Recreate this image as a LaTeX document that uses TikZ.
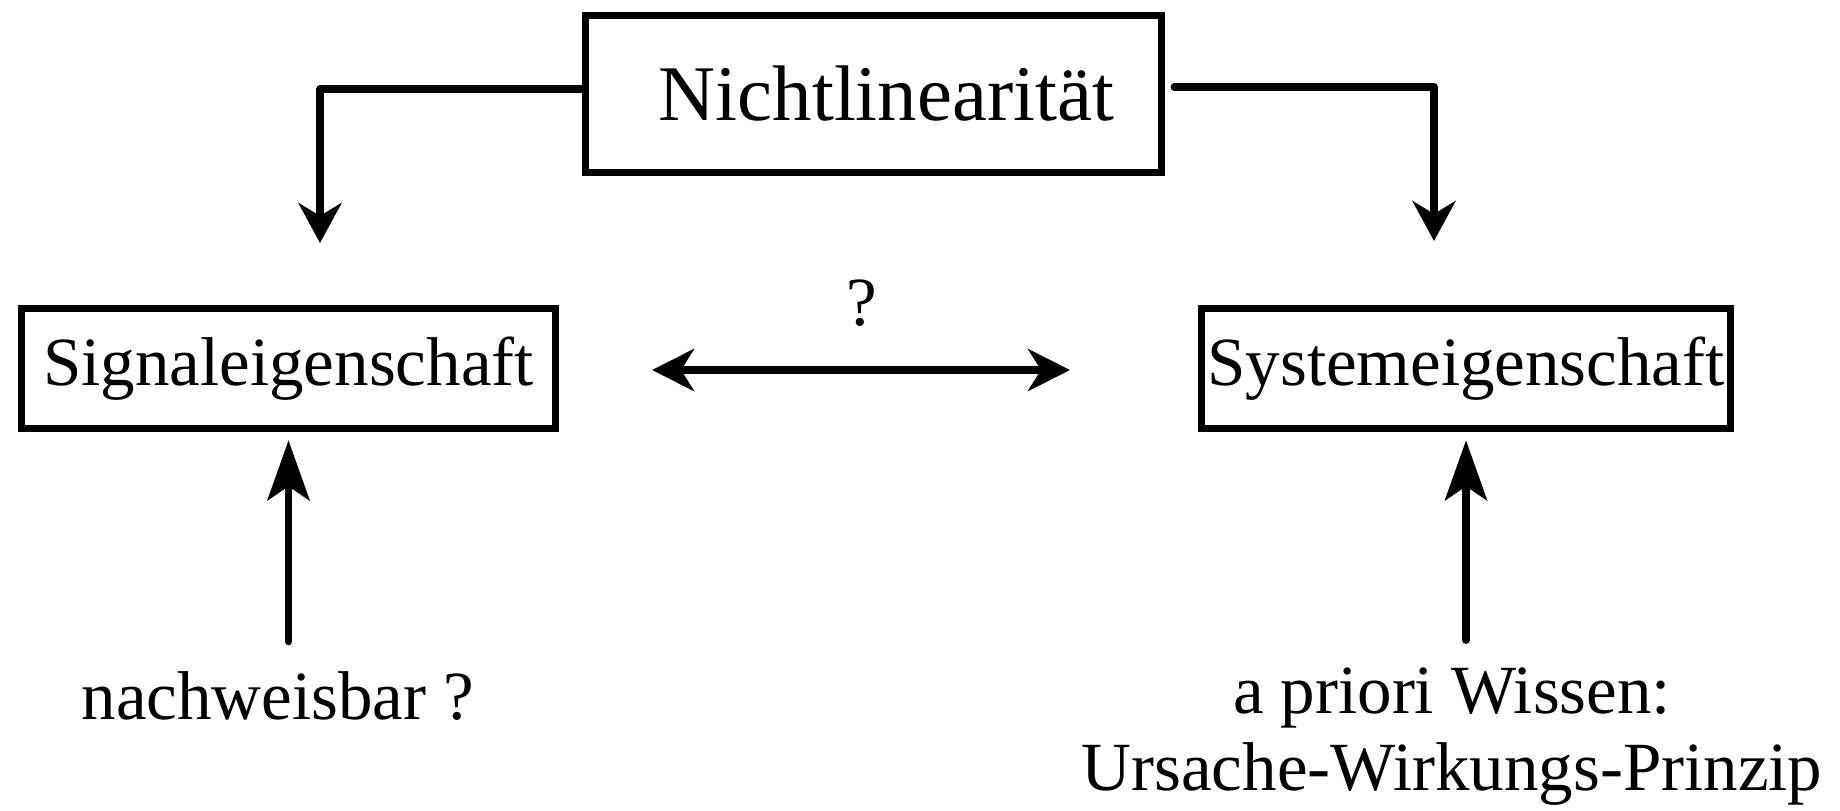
\documentclass[tikz,border=0pt]{standalone}
\usepackage{fontspec}
\setmainfont{Liberation Serif}
\newfontfamily\timesfont{Liberation Serif}
\usetikzlibrary{arrows.meta, positioning}

\begin{document}
\begin{tikzpicture}[
        x=0.5pt, y=-0.5pt,
        font=\timesfont\fontsize{34.5}{38.5}\selectfont,
        box/.style={draw, line width=3.8pt, inner sep=0pt, align=center},
        conn/.style={line width=3.8pt, line cap=round, line join=round},
        tipdown/.style={conn, -{Stealth[length=20pt, width=21.5pt, inset=6.5pt]}},
        tipboth/.style={conn, {Stealth[length=21pt, width=21pt, inset=6.5pt]}-{Stealth[length=21pt, width=21pt, inset=6.5pt]}},
        tipup/.style={conn, -{Stealth[length=30pt, width=21pt, inset=7pt]}}
      ]

      \useasboundingbox (0,0) rectangle (1840,810);

      % ==================== BOXES ====================

      \node (Nonlin) [box, minimum width=288pt, minimum height=78.5pt,
        font=\timesfont\fontsize{39.4}{47}\selectfont] at (873.5,94) {\hspace*{13pt}Nichtlinearität};

      \node (Signal) [box, minimum width=267pt, minimum height=60pt] at (288.5,368.5) {Signaleigenschaft};

      \node (System) [box, minimum width=264.5pt, minimum height=60pt] at (1466,368.5) {Systemeigenschaft};

      % ==================== TEXTS ====================

      \node (Question) at (862,303) {?};

      \node (Detect) at (278,696) {nachweisbar ?};

      \node (Prior) [align=center] at (1452,737) {a priori Wissen:\\Ursache-Wirkungs-Prinzip};

      % free ends of the connectors
      \coordinate (SignalIn) at (320,243);
      \coordinate (SystemIn) at (1434,241);
      \coordinate (CmpLeft) at (652,370);
      \coordinate (CmpRight) at (1070,370);

      % ==================== CONNECTORS ====================

      \draw [tipdown] ([yshift=2.5pt]Nonlin.west) -| (SignalIn);
      \draw [tipdown] ([xshift=4.5pt, yshift=3.5pt]Nonlin.east) -| (SystemIn);

      \draw [tipboth] (CmpLeft) -- (CmpRight);

      \draw [tipup, shorten >=4pt] (Signal.south |- Detect.north) ++(0,-23) -- (Signal.south);
      \draw [tipup, shorten >=4pt] (System.south |- Prior.north) ++(0,-21) -- (System.south);

    \end{tikzpicture}
\end{document}
